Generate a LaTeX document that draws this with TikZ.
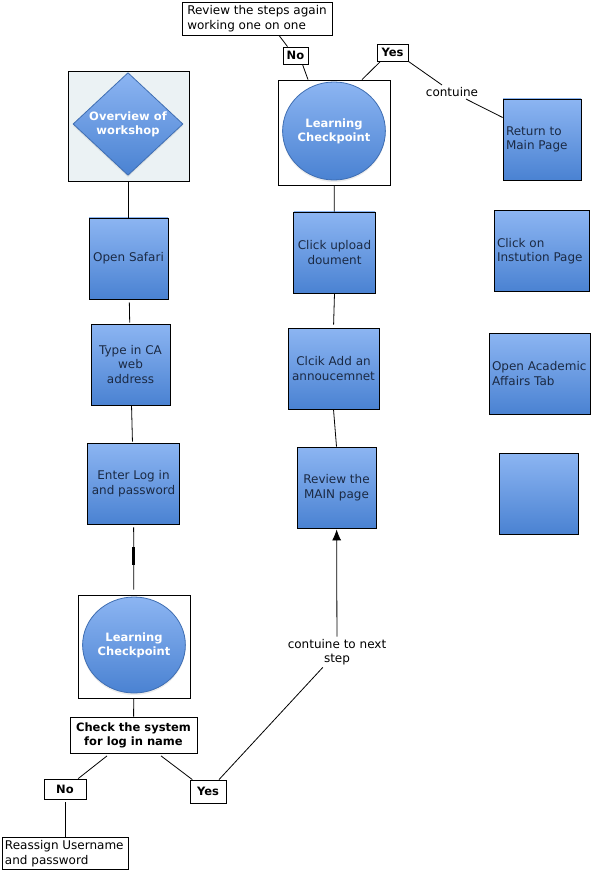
\documentclass[tikz,border=0pt]{standalone}
\usepackage{fontspec}
\setmainfont{DejaVu Sans}
\usetikzlibrary{shapes.geometric,arrows.meta,shadows}
\definecolor{boxtop}{HTML}{8CB5F2}
\definecolor{boxbot}{HTML}{4A82D2}
\definecolor{boxtext}{HTML}{1B2A44}
\definecolor{panel}{HTML}{EBF2F4}
\AtBeginDocument{\fontsize{12}{14.5}\selectfont\hyphenpenalty=10000\exhyphenpenalty=10000}
\tikzset{
  stepbox/.style={draw=black, top color=boxtop, bottom color=boxbot, text=boxtext,
    align=center, inner sep=4pt, minimum height=81pt},
  sidebox/.style={stepbox, align=flush left, inner xsep=3pt},
  lbl/.style={draw=black, fill=white, inner sep=2pt,
    font=\fontsize{11.5}{14}\selectfont\bfseries},
  note/.style={draw=black, fill=white, align=left, inner sep=3pt},
  frm/.style={draw=black, fill=white, inner sep=0pt},
  blueshape/.style={draw=boxbot!85!black, top color=boxtop, bottom color=boxbot,
    text=white, align=center, inner sep=0pt,
    font=\fontsize{11.5}{14}\selectfont\bfseries,
    drop shadow={opacity=0.15, shadow xshift=0pt, shadow yshift=-2pt}},
  chk/.style={ellipse, blueshape}
}
\begin{document}
\begin{tikzpicture}[x=1pt, y=-1pt, line width=0.8pt]
\useasboundingbox (0,0) rectangle (593,874);

% left column
\node [frm, fill=panel, minimum width=121pt, minimum height=110pt] (ovFrame) at (128.5,126) {};
\node [diamond, blueshape, minimum width=110pt, minimum height=100pt] (overview) at (128,124) {Overview of\\workshop};
\node [stepbox, minimum width=79pt] (safari) at (128.5,258.5) {Open Safari};
\node [stepbox, minimum width=79pt] (typeCA) at (130.5,364.5) {Type in CA\\web\\address};
\node [stepbox, minimum width=91pt] (login) at (133.5,483.5) {Enter Log in\\and password};
\node [frm, minimum width=112pt, minimum height=103pt] (frameA) at (134,646.5) {};
\node [chk, minimum width=100pt, minimum height=96pt] (checkA) at (134,645) {Learning\\Checkpoint};
\node [lbl, align=center, minimum width=127pt, minimum height=36pt] (sysCheck) at (133.5,735) {Check the system\\for log in name};
\node [lbl, minimum width=42pt, minimum height=20pt] (noA) at (65,789) {No};
\node [lbl, minimum width=36pt, minimum height=23pt] (yesA) at (208,791.5) {Yes};
\node [note, align=flush left, text width=120pt] (reassign) at (65,853.5) {Reassign Username\\and password};

% middle column
\node [note, minimum width=150pt, minimum height=33pt] (review) at (257,18.5) {Review the steps again\\working one on one};
\node [lbl, minimum width=25pt, minimum height=17pt] (noB) at (295.5,55.5) {No};
\node [lbl, minimum width=31pt, minimum height=17pt] (yesB) at (392.5,52.5) {Yes};
\node [frm, minimum width=112pt, minimum height=105pt] (frameB) at (334,132.5) {};
\node [chk, minimum width=102pt, minimum height=98pt] (checkB) at (334,131) {Learning\\Checkpoint};
\node [stepbox, minimum width=81pt] (upload) at (334.5,252.5) {Click upload\\doument};
\node [stepbox, minimum width=89pt] (annc) at (333.5,368.5) {Clcik Add an\\annoucemnet};
\node [stepbox, minimum width=79pt] (mainPg) at (336.5,487.5) {Review the\\MAIN page};
\node [align=center, inner sep=2pt] (nextStep) at (337,652) {contuine to next\\step};

% right column
\node [inner sep=2pt] (cont) at (452,92) {contuine};
\node [sidebox, text width=72pt] (retMain) at (542,139.5) {Return to\\Main Page};
\node [sidebox, text width=89pt] (inst) at (541.5,251) {Click on\\Instution Page};
\node [sidebox, text width=95pt] (acad) at (539.5,373.5) {Open Academic\\Affairs Tab};
\node [stepbox, minimum width=79pt] (blank) at (538.5,493.5) {};

% connectors
\draw (ovFrame) -- (safari);
\draw [shorten <=3pt, shorten >=1pt] (safari) -- (typeCA);
\draw [shorten >=1pt] (typeCA) -- (login);
\draw [shorten <=3pt, shorten >=5pt] (login) -- (frameA)
  node [pos=0.45, fill=black, inner sep=0pt, minimum width=2.5pt, minimum height=18pt] (tick) {};
\draw (frameA) -- (sysCheck);
\draw [shorten <=4pt] (sysCheck) -- (noA);
\draw [shorten <=4pt] (sysCheck) -- (yesA);
\draw [shorten <=3pt] (noA) -- (reassign);
\draw (yesA) -- (nextStep);
\draw [-{Latex[length=11pt,width=9pt]}, shorten >=1pt] (nextStep) -- (mainPg);
\draw (mainPg.north) -- (annc.south);
\draw [shorten <=3pt] (annc.north) -- (upload.south);
\draw (upload) -- (frameB);
\draw ([xshift=22pt]review.south) -- ([xshift=-8pt]noB.north);
\draw ([xshift=7pt]noB.south) -- ([xshift=-26pt]frameB.north);
\draw ([xshift=-12pt]yesB.south) -- ([xshift=28pt]frameB.north);
\draw (yesB.south east) -- (cont);
\draw (cont) -- ([yshift=22pt]retMain.west);
\end{tikzpicture}
\end{document}
